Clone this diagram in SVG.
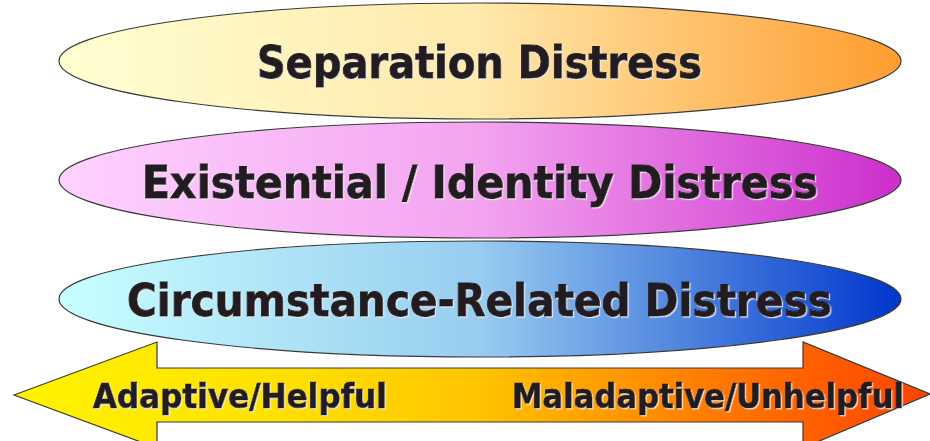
<svg xmlns="http://www.w3.org/2000/svg" width="930" height="441" viewBox="0 0 930 441">
  <defs>
    <linearGradient id="gTop" x1="0" y1="0" x2="1" y2="0">
      <stop offset="0" stop-color="#FFFFD2"/>
      <stop offset="0.5" stop-color="#FFE9AC"/>
      <stop offset="1" stop-color="#FF9C2E"/>
    </linearGradient>
    <linearGradient id="gMid" x1="0" y1="0" x2="1" y2="0">
      <stop offset="0" stop-color="#FFD2FF"/>
      <stop offset="0.5" stop-color="#F3A4F0"/>
      <stop offset="1" stop-color="#CC2ECC"/>
    </linearGradient>
    <linearGradient id="gBot" x1="0" y1="0" x2="1" y2="0">
      <stop offset="0" stop-color="#C8FFFF"/>
      <stop offset="0.5" stop-color="#98CCF0"/>
      <stop offset="1" stop-color="#0036CC"/>
    </linearGradient>
    <linearGradient id="gArrow" x1="0" y1="0" x2="1" y2="0">
      <stop offset="0" stop-color="#FFF400"/>
      <stop offset="0.3" stop-color="#FFE000"/>
      <stop offset="0.5" stop-color="#FFC600"/>
      <stop offset="0.8" stop-color="#FF7000"/>
      <stop offset="1" stop-color="#FF4200"/>
    </linearGradient>
    <filter id="sh" filterUnits="userSpaceOnUse" x="0" y="0" width="930" height="441">
      <feDropShadow dx="1.2" dy="1.2" stdDeviation="0.4" flood-color="#E8E8E8" flood-opacity="0.9"/>
    </filter>
  </defs>
  <style>
    .ell { stroke: #3A3A3A; stroke-width: 1.2; }
    .big { font-family: "DejaVu Sans", Verdana, sans-serif; font-weight: bold; font-size: 45px; fill: #231F20; stroke: #231F20; stroke-width: 0.9; filter: url(#sh); }
    .small { font-family: "DejaVu Sans", Verdana, sans-serif; font-weight: bold; font-size: 34px; fill: #231F20; stroke: #231F20; stroke-width: 0.7; filter: url(#sh); }
  </style>
  <rect width="930" height="441" fill="#FFFFFF"/>

  <g id="arrow">
    <path d="M14,395 L157,342 L157,368 L803,368 L803,342 L930,394 L803,448 L803,422 L157,422 L157,448 Z" fill="url(#gArrow)" stroke="#3A3A3A" stroke-width="1.2"/>
    <text class="small" x="93" y="408" textLength="294" lengthAdjust="spacingAndGlyphs">Adaptive/Helpful</text>
    <text class="small" x="512" y="408" textLength="392" lengthAdjust="spacingAndGlyphs">Maladaptive/Unhelpful</text>
  </g>

  <g id="separation">
    <ellipse class="ell" cx="480" cy="61" rx="421" ry="58" fill="url(#gTop)"/>
    <text class="big" x="257" y="78" textLength="445" lengthAdjust="spacingAndGlyphs">Separation Distress</text>
  </g>

  <g id="existential">
    <ellipse class="ell" cx="480" cy="180" rx="421" ry="58" fill="url(#gMid)"/>
    <text class="big" x="142" y="198" textLength="676" lengthAdjust="spacingAndGlyphs">Existential / Identity Distress</text>
  </g>

  <g id="circumstance">
    <ellipse class="ell" cx="480" cy="299" rx="421" ry="58" fill="url(#gBot)"/>
    <text class="big" x="127" y="316" textLength="705" lengthAdjust="spacingAndGlyphs">Circumstance-Related Distress</text>
  </g>

  <g id="connectors"/>
</svg>
